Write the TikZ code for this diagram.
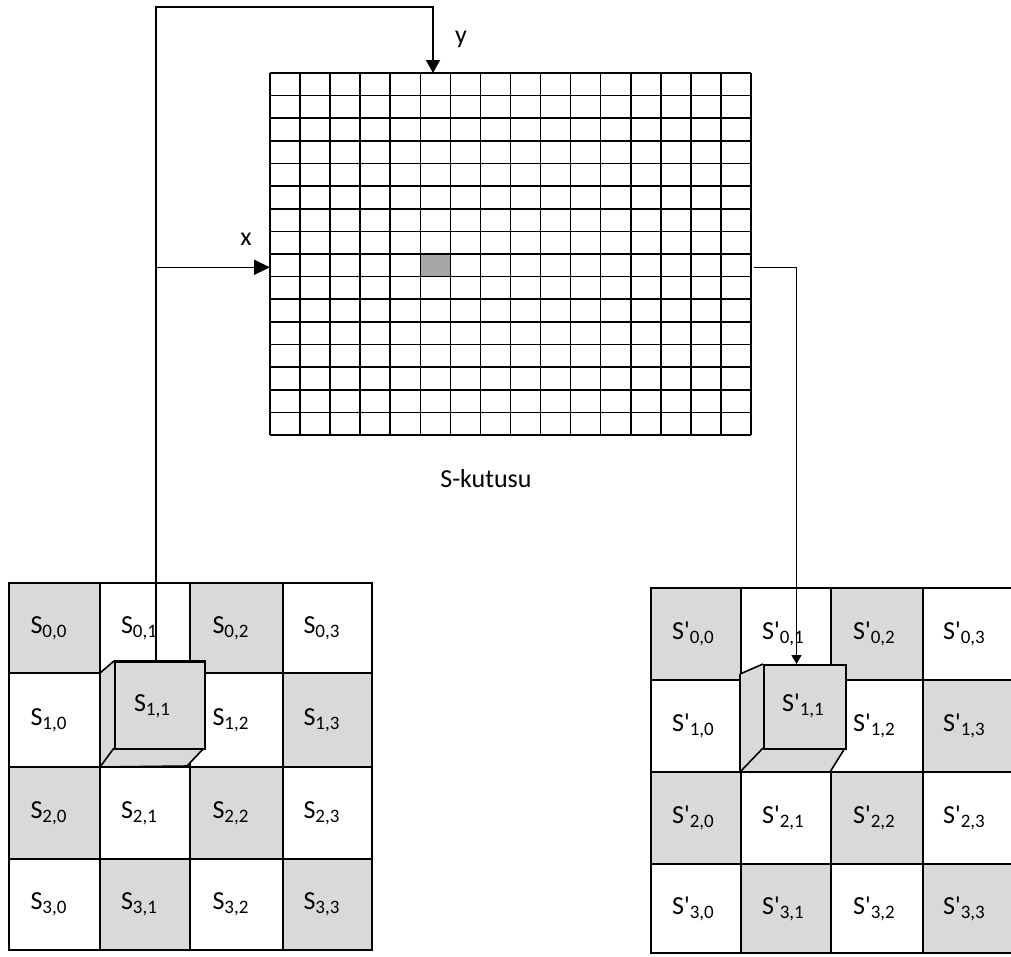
\documentclass[tikz,border=0pt]{standalone}
\usepackage{fontspec}
\newfontfamily\lab{Carlito}
\usetikzlibrary{arrows.meta}
\definecolor{cellgray}{RGB}{217,217,217}
\definecolor{hitgray}{RGB}{166,166,166}
\newcommand\slab[3]{{\lab\fontsize{26}{26}\selectfont S#1\raisebox{-4pt}{\fontsize{19}{19}\selectfont #2,#3}}}
\tikzset{
  gl/.style={line width=1.6pt, black},
  mline/.style={line width=1.6pt, black},
  conn/.style={line width=1.6pt, black},
  lbl/.style={inner sep=0pt, font=\lab\fontsize{26}{26}\selectfont},
  cubefill/.style={fill=cellgray},
}
\begin{document}
\begin{tikzpicture}[x=1pt,y=-1pt]
\useasboundingbox (0,0) rectangle (1011,956);
\clip (0,0) rectangle (1011,956);
\fill[white] (0,0) rectangle (1011,956);

% ---- S-box grid (16 x 16)
\node[inner sep=0pt, minimum width=481pt, minimum height=362pt, anchor=north west] (sbox) at (270,73) {};
\fill[hitgray] ({270+5*30.0625},{73+8*22.625}) rectangle ++(30.0625,22.625);
\foreach \k in {0,...,16} {
  \draw[gl] ({270+\k*30.0625},73) -- ({270+\k*30.0625},435);
  \draw[gl] (270,{73+\k*22.625}) -- (751,{73+\k*22.625});
}
\node[lbl, anchor=base] (sklabel) at (486,487) {S-kutusu};

% ---- left matrix
\def\LX{{9,100,190,283,372}}
\def\LY{{583,673,767,859,950}}
\foreach \i in {0,...,3} \foreach \j in {0,...,3} {
  \pgfmathsetmacro\xa{\LX[\j]}\pgfmathsetmacro\xb{\LX[\j+1]}
  \pgfmathsetmacro\ya{\LY[\i]}\pgfmathsetmacro\yb{\LY[\i+1]}
  \pgfmathtruncatemacro\pp{mod(\i+\j,2)}
  \ifnum\pp=0 \fill[cellgray] (\xa,\ya) rectangle (\xb,\yb);\fi
  \draw[mline] (\xa,\ya) rectangle (\xb,\yb);
}
\foreach \i in {0,...,3} \foreach \j in {0,...,3} {
  \pgfmathsetmacro\xa{\LX[\j]}\pgfmathsetmacro\xb{\LX[\j+1]}
  \pgfmathsetmacro\ya{\LY[\i]}\pgfmathsetmacro\yb{\LY[\i+1]}
  \pgfmathtruncatemacro\cc{\i*10+\j}
  \ifnum\cc=11 \else
  \node[lbl] (L\i\j) at ({(\xa+\xb)/2-6},{(\ya+\yb)/2}) {\slab{}{\i}{\j}};
  \fi
}
% left cube
\fill[cubefill] (100,673) -- (114,661) -- (204,661) -- (204,748) -- (187,766) -- (100,767) -- cycle;
\draw[mline] (100,673) -- (114,661);
\draw[mline] (100,673) -- (100,767) -- (187,766) -- (204,748);
\draw[mline] (114,748) -- (100,767);
\node[draw, line width=1.6pt, fill=cellgray, inner sep=0pt, minimum width=90pt, minimum height=87pt, anchor=north west] (cubeL) at (114,661) {};
\draw[line width=3pt] (cubeL.north west) -- (cubeL.north east);
\node[lbl] (L11) at (152,706) {\slab{}{1}{1}};

% ---- right matrix
\def\RX{{651,741,831,923,1013}}
\def\RY{{588,680,772,864,953}}
\foreach \i in {0,...,3} \foreach \j in {0,...,3} {
  \pgfmathsetmacro\xa{\RX[\j]}\pgfmathsetmacro\xb{\RX[\j+1]}
  \pgfmathsetmacro\ya{\RY[\i]}\pgfmathsetmacro\yb{\RY[\i+1]}
  \pgfmathtruncatemacro\pp{mod(\i+\j,2)}
  \ifnum\pp=0 \fill[cellgray] (\xa,\ya) rectangle (\xb,\yb);\fi
  \draw[mline] (\xa,\ya) rectangle (\xb,\yb);
}
\foreach \i in {0,...,3} \foreach \j in {0,...,3} {
  \pgfmathsetmacro\xa{\RX[\j]}\pgfmathsetmacro\xb{\RX[\j+1]}
  \pgfmathsetmacro\ya{\RY[\i]}\pgfmathsetmacro\yb{\RY[\i+1]}
  \pgfmathtruncatemacro\cc{\i*10+\j}
  \ifnum\cc=11 \else
  \ifnum\j=3
  \node[lbl] (R\i\j) at ({(\xa+\xb)/2-4},{(\ya+\yb)/2}) {\slab{'}{\i}{\j}};
  \else
  \node[lbl] (R\i\j) at ({(\xa+\xb)/2-3},{(\ya+\yb)/2}) {\slab{'}{\i}{\j}};
  \fi
  \fi
}
% right cube
\fill[cubefill] (740,674) -- (763,664) -- (845,664) -- (845,748) -- (830,772) -- (740,772) -- cycle;
\draw[mline] (740,674) -- (763,664);
\draw[mline] (740,674) -- (740,772) -- (830,772) -- (845,748);
\draw[mline] (763,748) -- (740,772);
\node[draw, line width=1.6pt, fill=cellgray, inner sep=0pt, minimum width=82pt, minimum height=84pt, anchor=north west] (cubeR) at (763,664) {};
\node[lbl] (R11) at (803,706) {\slab{'}{1}{1}};

% ---- connectors
\coordinate (c1) at (156,7);
\coordinate (c2) at (433,7);
\coordinate (xj) at (156,267.3);
\coordinate (o0) at (754,267.3);
\coordinate (o1) at (796.5,267.3);
\draw[conn, -{Triangle[width=14pt,length=13pt]}] (cubeL.north -| c1) -- (c1) -- (c2) -- (sbox.north -| c2);
\draw[conn, -{Triangle[width=15pt,length=16pt]}] (xj) -- (sbox.west |- xj);
\draw[conn, line width=1.3pt, -{Triangle[width=10pt,length=9pt]}] (o0) -- (o1) -- (cubeR.north -| o1);
\node[lbl] (ylab) at (461,39) {y};
\node[lbl] (xlab) at (246,239) {x};
\end{tikzpicture}
\end{document}
